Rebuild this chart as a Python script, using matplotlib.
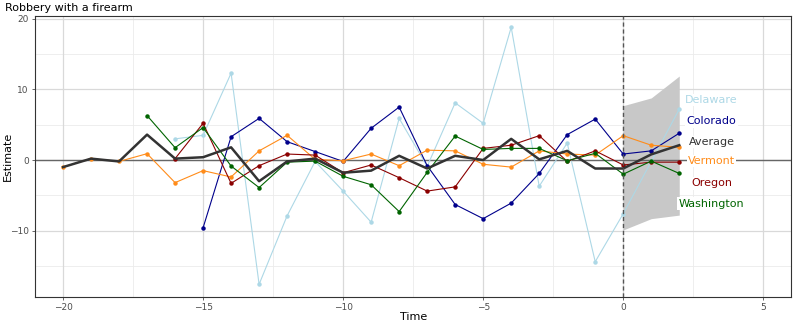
import matplotlib
matplotlib.use("Agg")
import matplotlib.pyplot as plt
import numpy as np

time = list(range(-20, 3))

avg = [-1.0, 0.2, -0.2, 3.6, 0.2, 0.4, 1.8, -3.0, -0.2, 0.2, -1.8, -1.5, 0.6, -1.2,
       0.6, 0.0, 3.0, 0.1, 1.3, -1.2, -1.2, 0.8, 2.1]

delaware_t = list(range(-16, 3))
delaware = [3.0, 3.5, 12.3, -17.6, -7.9, -0.2, -4.4, -8.8, 5.9, -0.9, 8.1, 5.2, 18.8,
            -3.7, 2.4, -14.4, -7.6, -0.2, 7.2]

colorado_t = list(range(-15, 3))
colorado = [-9.6, 3.3, 5.9, 2.6, 1.2, -0.2, 4.5, 7.5, -0.8, -6.3, -8.3, -6.1, -1.9,
            3.6, 5.8, 0.85, 1.3, 3.8]

vermont_t = list(range(-20, 3))
vermont = [-1.0, 0.2, -0.2, 0.9, -3.2, -1.5, -2.4, 1.3, 3.5, 0.1, -0.1, 0.85, -0.8,
           1.4, 1.3, -0.6, -1.0, 1.3, 0.85, 0.7, 3.45, 2.1, 1.8]

oregon_t = list(range(-16, 3))
oregon = [0.2, 5.2, -3.3, -0.8, 0.85, 0.7, -1.8, -0.7, -2.5, -4.4, -3.8, 1.65, 2.1,
          3.45, -0.2, 1.3, -0.7, -0.3, -0.3]

washington_t = list(range(-17, 3))
washington = [6.3, 1.75, 4.6, -0.85, -3.9, -0.3, -0.15, -2.3, -3.5, -7.3, -1.75, 3.4,
              1.5, 1.65, 1.65, -0.1, 0.95, -2.0, -0.15, -1.9]

ci_t = [0, 1, 2]
ci_upper = [7.7, 8.8, 11.9]
ci_lower = [-9.9, -8.3, -7.8]

labels = ["Delaware", "Colorado", "Average", "Vermont", "Oregon", "Washington"]
label_y = [8.5, 5.5, 2.55, -0.15, -3.3, -6.2]
label_x = 3.15

c_del = "#ADD8E6"
c_col = "#00008B"
c_avg = "#333333"
c_ver = "#FF8C1A"
c_ore = "#8B0000"
c_was = "#006400"
label_colors = [c_del, c_col, c_avg, c_ver, c_ore, c_was]

fig = plt.figure(figsize=(7.94, 3.24), dpi=100)
ax = fig.add_axes([0.0441, 0.0833, 0.9525, 0.8673])

ax.set_xlim(-21.0, 6.0)
ax.set_ylim(-19.4, 20.4)

# grid
for xv in [-17.5, -12.5, -7.5, -2.5, 2.5]:
    ax.axvline(xv, color="#EBEBEB", lw=0.6, zorder=0)
for yv in [-15, -5, 5, 15]:
    ax.axhline(yv, color="#EBEBEB", lw=0.6, zorder=0)
for xv in [-20, -15, -10, -5, 0, 5]:
    ax.axvline(xv, color="#D9D9D9", lw=0.9, zorder=0)
for yv in [-10, 0, 10, 20]:
    ax.axhline(yv, color="#D9D9D9", lw=0.9, zorder=0)

ax.fill_between(ci_t, ci_lower, ci_upper, color="#C8C8C8", lw=0, zorder=1)

ax.axhline(0, color="#666666", lw=1.0, zorder=1.5)

series = [
    (delaware_t, delaware, c_del),
    (colorado_t, colorado, c_col),
    (vermont_t, vermont, c_ver),
    (oregon_t, oregon, c_ore),
    (washington_t, washington, c_was),
]
for t, v, c in series:
    ax.plot(t, v, color=c, lw=0.8, marker="o", ms=2.2, zorder=2)

ax.plot(time, avg, color=c_avg, lw=1.8, zorder=3)

ax.axvline(0, color="#555555", lw=1.0, ls=(0, (3, 2)), zorder=4)

for lab, ly, lc in zip(labels, label_y, label_colors):
    ax.text(label_x, ly, lab, color=lc, fontsize=8, ha="center", va="center",
            bbox=dict(facecolor="white", edgecolor="none", pad=1.0), zorder=5)

ax.set_xticks([-20, -15, -10, -5, 0, 5])
ax.set_yticks([-10, 0, 10, 20])
ax.tick_params(axis="both", labelsize=6.5, colors="#4D4D4D", length=2.5, width=0.6, pad=2)
for s in ax.spines.values():
    s.set_color("#333333")
    s.set_linewidth(0.8)

ax.set_xlabel("Time", fontsize=8, va="center")
ax.set_ylabel("Estimate", fontsize=8, va="center")
ax.xaxis.set_label_coords(0.5, -0.071)
ax.yaxis.set_label_coords(-0.0357, 0.5)
fig.text(0.006, 0.975, "Robbery with a firearm", fontsize=8, ha="left", va="center")

fig.savefig("out.png", dpi=100)
